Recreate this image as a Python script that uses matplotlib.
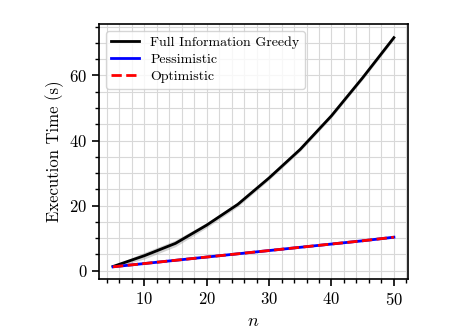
import numpy as np
import matplotlib
matplotlib.use('Agg')
import matplotlib.pyplot as plt
from matplotlib.ticker import MultipleLocator

plt.rcParams['font.family'] = 'serif'
plt.rcParams['font.serif'] = ['cmr10', 'DejaVu Serif']
plt.rcParams['mathtext.fontset'] = 'cm'
plt.rcParams['axes.formatter.use_mathtext'] = True

# data
n = [5, 10, 15, 20, 25, 30, 35, 40, 45, 50]
greedy = [1.3, 4.6, 8.4, 14.0, 20.4, 28.5, 37.3, 47.6, 59.3, 71.6]
greedy_sd = [0.3, 1.0, 1.0, 0.8, 0.7, 0.6, 0.6, 0.6, 0.6, 0.6]
pessimistic = [1.2, 2.2, 3.2, 4.2, 5.2, 6.2, 7.2, 8.2, 9.2, 10.3]
optimistic = [1.2, 2.2, 3.2, 4.2, 5.2, 6.2, 7.2, 8.2, 9.2, 10.3]
bound_sd = [0.1, 0.1, 0.15, 0.15, 0.2, 0.2, 0.2, 0.25, 0.25, 0.3]

fig = plt.figure(figsize=(4.53, 3.35), dpi=100)
ax = fig.add_axes([0.2185, 0.167, 0.682, 0.761])

g = np.array(greedy); gs = np.array(greedy_sd)
p = np.array(pessimistic); ps = np.array(bound_sd)
ax.fill_between(n, g - gs, g + gs, color='gray', alpha=0.35, lw=0)
ax.fill_between(n, p - ps, p + ps, color='blue', alpha=0.2, lw=0)
ax.plot(n, greedy, color='black', lw=2, label='Full Information Greedy')
ax.plot(n, pessimistic, color='blue', lw=2, label='Pessimistic')
ax.plot(n, optimistic, color='red', lw=2, ls='--', label='Optimistic')

ax.xaxis.set_major_locator(MultipleLocator(10))
ax.xaxis.set_minor_locator(MultipleLocator(2))
ax.yaxis.set_major_locator(MultipleLocator(20))
ax.yaxis.set_minor_locator(MultipleLocator(5))
ax.grid(which='both', color='#d8d8d8', lw=0.8)
ax.set_axisbelow(True)
ax.tick_params(labelsize=12, width=1.2, length=5)
ax.tick_params(which='minor', width=1, length=3)
for s in ax.spines.values():
    s.set_linewidth(1.2)

ax.set_xlabel('$n$', fontsize=13)
ax.set_ylabel('Execution Time (s)', fontsize=12)
ax.legend(loc='upper left', fontsize=10, framealpha=0.8, labelspacing=0.3)

fig.savefig('out.png', dpi=100)
